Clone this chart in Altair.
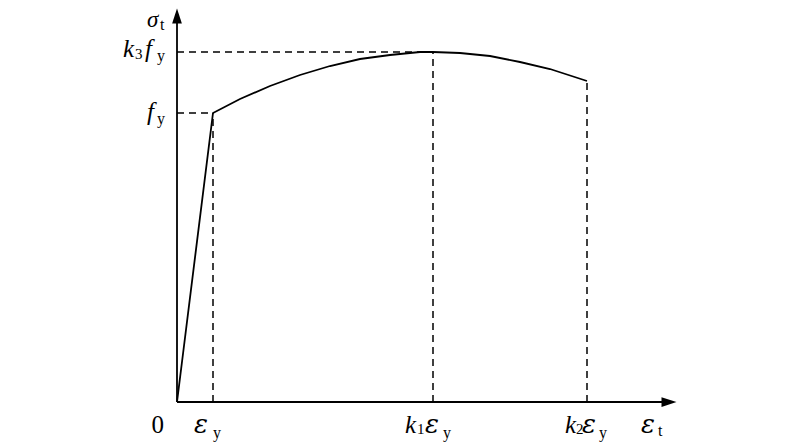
import altair as alt
import pandas as pd

# Stress-strain curve (x: strain units, y: stress units; origin at 0,0)
curve_x = [0, 36, 63, 93, 123, 153, 183, 213, 243, 256, 283, 313, 343, 373, 410]
curve_y = [0, 289, 303, 316, 327, 336, 343, 347, 350, 350, 349, 346, 340, 333, 321]

# key levels
eps_y, k1_eps_y, k2_eps_y = 36, 256, 410
f_y, k3_f_y, end_y = 289, 350, 321

# axes extents
x_axis_end = 492
y_axis_end = 386

# dashed guide lines (x, y, x2, y2)
guide_x = [0, 0, eps_y, k1_eps_y, k2_eps_y]
guide_y = [f_y, k3_f_y, 0, 0, 0]
guide_x2 = [eps_y, k1_eps_y, eps_y, k1_eps_y, k2_eps_y]
guide_y2 = [f_y, k3_f_y, f_y, k3_f_y, end_y]

# italic Latin / sigma label pieces
ital_text = ["σ", "k", "f", "f", "k", "k"]
ital_x = [-30, -54, -32, -30, 228, 388]
ital_y = [375, 345, 345, 282, -31, -31]
ital_size = [23, 25, 25, 25, 25, 25]

# italic epsilon pieces
eps_x = [17, 248, 405, 464]
eps_y_pos = [-31, -31, -31, -31]

# upright label pieces (subscripts and the origin digit)
up_text = ["t", "3", "y", "y", "0", "y", "1", "y", "2", "y", "t"]
up_x = [-17, -42, -20, -20, -25.5, 36, 240, 266, 399, 422, 481]
up_y = [372, 343, 341, 278, -31, -36, -32, -36, -32, -36, -34]
up_size = [16, 15, 16, 16, 25, 16, 15, 16, 15, 16, 16]

curve = pd.DataFrame({"x": curve_x, "y": curve_y})
guides = pd.DataFrame({"x": guide_x, "y": guide_y, "x2": guide_x2, "y2": guide_y2})
axes = pd.DataFrame({"x": [0, 0], "y": [0, 0], "x2": [x_axis_end, 0], "y2": [0, y_axis_end]})
arrow_up = pd.DataFrame({"x": [0], "y": [y_axis_end]})
arrow_right = pd.DataFrame({"x": [x_axis_end], "y": [0]})
ital = pd.DataFrame({"x": ital_x, "y": ital_y, "t": ital_text, "s": ital_size})
eps = pd.DataFrame({"x": eps_x, "y": eps_y_pos, "t": ["ε"] * len(eps_x)})
up = pd.DataFrame({"x": up_x, "y": up_y, "t": up_text, "s": up_size})

xs = alt.Scale(domain=[0, 500], nice=False, zero=False)
ys = alt.Scale(domain=[0, 394], nice=False, zero=False)
X = lambda f="x": alt.X(f"{f}:Q", scale=xs, axis=None)
Y = lambda f="y": alt.Y(f"{f}:Q", scale=ys, axis=None)

axis_lines = alt.Chart(axes).mark_rule(color="black", strokeWidth=1.8).encode(
    x=X(), y=Y(), x2="x2:Q", y2="y2:Q")
up_head = alt.Chart(arrow_up).mark_point(
    shape="M0,-1L0.65,1L-0.65,1Z", filled=True, color="black", opacity=1, size=225
).encode(x=X(), y=Y())
right_head = alt.Chart(arrow_right).mark_point(
    shape="M1,0L-1,0.65L-1,-0.65Z", filled=True, color="black", opacity=1, size=225
).encode(x=X(), y=Y())
guide_lines = alt.Chart(guides).mark_rule(color="black", strokeWidth=1.5, strokeDash=[7, 5]).encode(
    x=X(), y=Y(), x2="x2:Q", y2="y2:Q")
line = alt.Chart(curve).mark_line(color="black", strokeWidth=1.8).encode(
    x=X(), y=Y(), order=alt.Order("x:Q"))
ital_labels = alt.Chart(ital).mark_text(
    font="serif", fontStyle="italic", align="left",
    baseline="alphabetic", color="black"
).encode(x=X(), y=Y(), text="t:N", size=alt.Size("s:Q", scale=None, legend=None))
eps_labels = alt.Chart(eps).mark_text(
    font="DejaVu Serif", fontStyle="italic", fontSize=26, align="left",
    baseline="alphabetic", color="black"
).encode(x=X(), y=Y(), text="t:N")
up_labels = alt.Chart(up).mark_text(
    font="serif", align="left", baseline="alphabetic", color="black"
).encode(x=X(), y=Y(), text="t:N", size=alt.Size("s:Q", scale=None, legend=None))

chart = alt.layer(
    guide_lines, axis_lines, line, up_head, right_head, ital_labels, eps_labels, up_labels
).properties(
    width=500, height=394,
    padding={"left": 169, "top": 0, "right": 20, "bottom": 40},
    autosize="none",
).configure_view(stroke=None)

chart.save("out.html", embed_options={"renderer": "svg", "actions": False})
